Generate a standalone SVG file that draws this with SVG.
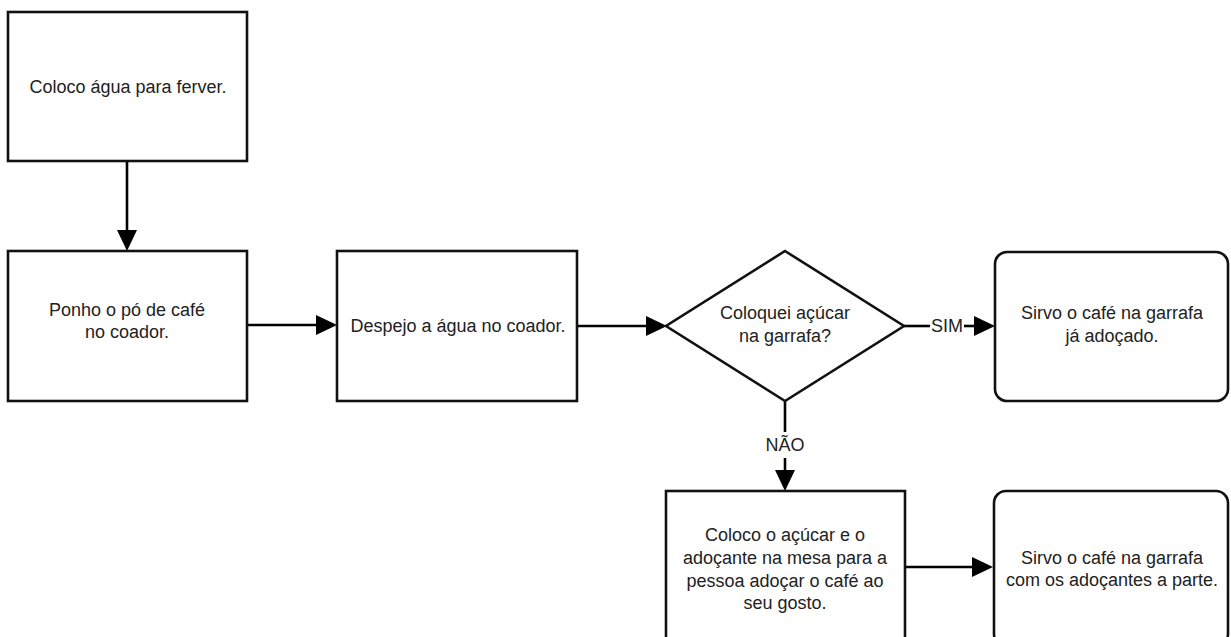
<svg xmlns="http://www.w3.org/2000/svg" width="1231" height="637" viewBox="0 0 1231 637">
<style>
.box{fill:#fff;stroke:#111;stroke-width:2.6}
.t{font-family:"Liberation Sans",Arial,sans-serif;font-size:18px;fill:#222;text-anchor:middle}
.edge{fill:none;stroke:#000;stroke-width:2.6}
.head{fill:#000}
.lbl{font-family:"Liberation Sans",Arial,sans-serif;font-size:18px;fill:#222;text-anchor:middle}
</style>
<rect width="1231" height="637" fill="#fff"/>
<g id="connectors">
<line class="edge" x1="127" y1="161" x2="127" y2="232"/>
<path class="head" d="M117,230 L137,230 L127,251 Z"/>
<line class="edge" x1="247" y1="325" x2="318" y2="325"/>
<path class="head" d="M316,315 L316,335 L337,325 Z"/>
<line class="edge" x1="577" y1="326" x2="648" y2="326"/>
<path class="head" d="M646,316 L646,336 L667,326 Z"/>
<line class="edge" x1="904" y1="326" x2="930" y2="326"/>
<line class="edge" x1="964" y1="326" x2="978" y2="326"/>
<path class="head" d="M974,316 L974,336 L995,326 Z"/>
<text class="lbl" x="947" y="332">SIM</text>
<line class="edge" x1="785" y1="401" x2="785" y2="432"/>
<line class="edge" x1="785" y1="458" x2="785" y2="472"/>
<path class="head" d="M775,470 L795,470 L785,491 Z"/>
<text class="lbl" x="785" y="451">NÃO</text>
<line class="edge" x1="905" y1="567" x2="974" y2="567"/>
<path class="head" d="M972,557 L972,577 L993,567 Z"/>
</g>
<g id="n1">
<rect class="box" x="8" y="12" width="239" height="149"/>
<text class="t" x="128" y="93">Coloco água para ferver.</text>
</g>
<g id="n2">
<rect class="box" x="8" y="251" width="239" height="150"/>
<text class="t" x="127" y="316">Ponho o pó de café</text>
<text class="t" x="127" y="338">no coador.</text>
</g>
<g id="n3">
<rect class="box" x="337" y="251" width="240" height="150"/>
<text class="t" x="458" y="332">Despejo a água no coador.</text>
</g>
<g id="n4">
<path class="box" d="M785,251 L904,326 L785,401 L666,326 Z"/>
<text class="t" x="785" y="319">Coloquei açúcar</text>
<text class="t" x="785" y="342">na garrafa?</text>
</g>
<g id="n5">
<rect class="box" x="995" y="252" width="233" height="149" rx="12" ry="12"/>
<text class="t" x="1112" y="319">Sirvo o café na garrafa</text>
<text class="t" x="1112" y="342">já adoçado.</text>
</g>
<g id="n6">
<rect class="box" x="666" y="491" width="239" height="150"/>
<text class="t" x="785" y="541">Coloco o açúcar e o</text>
<text class="t" x="785" y="564">adoçante na mesa para a</text>
<text class="t" x="785" y="587">pessoa adoçar o café ao</text>
<text class="t" x="785" y="609">seu gosto.</text>
</g>
<g id="n7">
<rect class="box" x="994" y="491" width="234" height="155" rx="12" ry="12"/>
<text class="t" x="1112" y="564">Sirvo o café na garrafa</text>
<text class="t" x="1112" y="586">com os adoçantes a parte.</text>
</g>
</svg>
